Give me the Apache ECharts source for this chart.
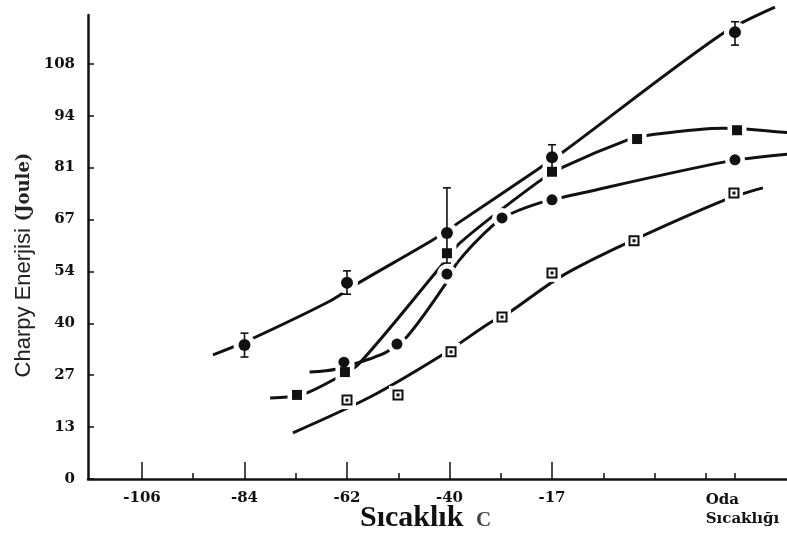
<!DOCTYPE html>
<html><head><meta charset="utf-8">
<script src="https://cdn.jsdelivr.net/npm/echarts@6/dist/echarts.min.js"></script>
<style>html,body{margin:0;padding:0;background:#fff}#c{width:787px;height:538px}</style>
</head><body><div id="c"></div>
<script>
// Internal units: x in °F (labels printed in °C), y in ft·lbf (labels printed in Joule)
const xLabelValues = [-160, -120, -80, -40, 0, 74.3];
const xLabels = ['-106', '-84', '-62', '-40', '-17', '{o|Oda}\n{o|Sıcaklığı}'];
const xMajorTicks = [-160, -120, -80, -40, 0];
const xMinorTicks = [-140, -100, -60, -20, 20, 40, 60, 71.4];
const yTickValues = [0, 10, 20, 30, 40, 50, 60, 70, 80];
const yLabels = ['0', '13', '27', '40', '54', '67', '81', '94', '108'];

// fitted curves
const curveA = [[-132.3,23.9],[-119.8,26.4],[-86.6,34.3],[-76.1,37.6],[-46.4,46.1],[-36.7,49.3],[-5.5,59.7],[4.3,63.0],[65.6,85.5],[87.0,90.9]];
const curveB = [[-110,15.6],[-103.4,15.8],[-95.6,16.6],[-83.9,19.5],[-75.7,22.0],[-43.7,40.8],[-35.9,45.5],[-5.5,57.2],[4.3,60.1],[29.3,65.3],[38.2,66.3],[66.7,67.6],[92.5,66.7]];
const curveC = [[-94.6,20.6],[-83.9,21.2],[-70.2,23.3],[-64.4,24.5],[-56.6,27.4],[-41.8,37.4],[-37.1,41.6],[-23.0,48.9],[-15.2,51.3],[-3.5,53.4],[4.3,54.3],[67.5,61.1],[92.5,62.6]];
const curveD = [[-101.1,8.9],[-71,15.8],[-42.9,23.9],[-24.2,30.1],[-16.4,32.2],[3.1,38.9],[27.7,45.1],[67.5,53.8],[82.3,56.1]];

// measured points
const pointsA = [[-120,25.8],[-80,37.8],[-41,47.4],[0,62.0],[71.4,86.1]];
const pointsB = [[-99.5,16.2],[-80.8,20.6],[-41,43.5],[0,59.2],[33.2,65.5],[72.2,67.2]];
const pointsC = [[-81.2,22.5],[-60.5,26.0],[-41,39.5],[-19.5,50.3],[0,53.8],[71.4,61.5]];
const pointsD = [[-80,15.2],[-60.1,16.2],[-39.4,24.5],[-19.5,31.2],[0,39.7],[32,45.9],[71,55.1]];
// error bars of series A: [x, low, high]
const errorsA = [[-120,23.5,28.1],[-80,35.6,40.1],[-41,41.6,56.1],[0,59.6,64.4],[71.4,83.6,88.1]];

const INK = '#111';
const chart = echarts.init(document.getElementById('c'));

function curve(data) {
  return { type: 'line', data: data, showSymbol: false, smooth: 0.3,
    lineStyle: { color: INK, width: 3 }, z: 2, silent: true, clip: false };
}
function gap(data, sym, size) {
  return { type: 'scatter', data: data, symbol: sym, symbolSize: size,
    itemStyle: { color: '#fff', opacity: 1 }, z: 3, silent: true };
}
function marks(data, sym, size, open) {
  return { type: 'scatter', data: data, symbol: sym, symbolSize: size,
    itemStyle: open ? { color: '#fff', borderColor: INK, borderWidth: 2, opacity: 1 } : { color: INK, opacity: 1 }, z: 5, silent: true };
}

chart.setOption({
  animation: false,
  backgroundColor: '#fff',
  grid: { left: 88, right: 0, top: 15, bottom: 59 },
  xAxis: [{
    type: 'value', min: -181.07, max: 91.7, position: 'bottom',
    axisLine: { onZero: false, lineStyle: { color: INK, width: 2.5 } },
    axisTick: { show: true, inside: true, length: 17, customValues: xMajorTicks, lineStyle: { color: INK, width: 1.5 } },
    splitLine: { show: false },
    axisLabel: {
      customValues: xLabelValues, margin: 12, color: INK,
      fontFamily: 'DejaVu Serif', fontWeight: 'bold', fontSize: 15,
      formatter: function (v) { const i = xLabelValues.findIndex(function (t) { return Math.abs(t - v) < 0.01; }); return i >= 0 ? xLabels[i] : ''; },
      rich: { o: { fontFamily: 'DejaVu Serif', fontWeight: 'bold', fontSize: 15, color: INK, align: 'left', lineHeight: 19 } }
    }
  }, {
    type: 'value', min: -181.07, max: 91.7, position: 'bottom',
    axisLine: { show: false, onZero: false },
    axisTick: { show: true, inside: true, length: 6, customValues: xMinorTicks, lineStyle: { color: INK, width: 1.5 } },
    axisLabel: { show: false }, splitLine: { show: false }
  }],
  yAxis: {
    type: 'value', min: 0, max: 89.4, position: 'left',
    axisLine: { show: true, onZero: false, lineStyle: { color: INK, width: 2.5 } },
    axisTick: { show: true, inside: true, length: 6, customValues: yTickValues, lineStyle: { color: INK, width: 1.5 } },
    splitLine: { show: false },
    axisLabel: {
      customValues: yTickValues, margin: 13, color: INK,
      fontFamily: 'DejaVu Serif', fontWeight: 'bold', fontSize: 15,
      formatter: function (v) { const i = yTickValues.indexOf(Math.round(v)); return i >= 0 ? yLabels[i] : ''; }
    }
  },
  graphic: [
    { type: 'text', rotation: Math.PI / 2, x: 24, y: 265, silent: true,
      style: { text: '{a|Charpy Enerjisi}  {b|(Joule)}', align: 'center', verticalAlign: 'middle',
        rich: { a: { fontFamily: 'Liberation Sans', fontSize: 22, fill: '#222' },
                b: { fontFamily: 'DejaVu Serif', fontWeight: 'bold', fontSize: 18, fill: '#222' } } } },
    { type: 'text', x: 360, y: 518, silent: true,
      style: { text: 'Sıcaklık', fontFamily: 'Liberation Serif', fontWeight: 'bold', fontSize: 30, fill: INK, align: 'left', verticalAlign: 'middle' } },
    { type: 'text', x: 476, y: 521, silent: true,
      style: { text: 'C', fontFamily: 'Liberation Serif', fontWeight: 'bold', fontSize: 21, fill: '#444', align: 'left', verticalAlign: 'middle' } }
  ],
  series: [
    curve(curveA), curve(curveB), curve(curveC), curve(curveD),
    gap(pointsA, 'circle', 22), gap(pointsB, 'rect', 19), gap(pointsC, 'circle', 20), gap(pointsD, 'rect', 18),
    { type: 'custom', data: errorsA, z: 4, silent: true,
      renderItem: function (params, api) {
        const top = api.coord([api.value(0), api.value(2)]);
        const bot = api.coord([api.value(0), api.value(1)]);
        const st = { stroke: INK, lineWidth: 1.6 };
        return { type: 'group', children: [
          { type: 'line', shape: { x1: top[0], y1: top[1], x2: bot[0], y2: bot[1] }, style: st },
          { type: 'line', shape: { x1: top[0] - 4, y1: top[1], x2: top[0] + 4, y2: top[1] }, style: st },
          { type: 'line', shape: { x1: bot[0] - 4, y1: bot[1], x2: bot[0] + 4, y2: bot[1] }, style: st }
        ] };
      } },
    marks(pointsA, 'circle', 12), marks(pointsB, 'rect', 10), marks(pointsC, 'circle', 11),
    marks(pointsD, 'rect', 9, true), marks(pointsD, 'rect', 3)
  ]
});
</script></body></html>
